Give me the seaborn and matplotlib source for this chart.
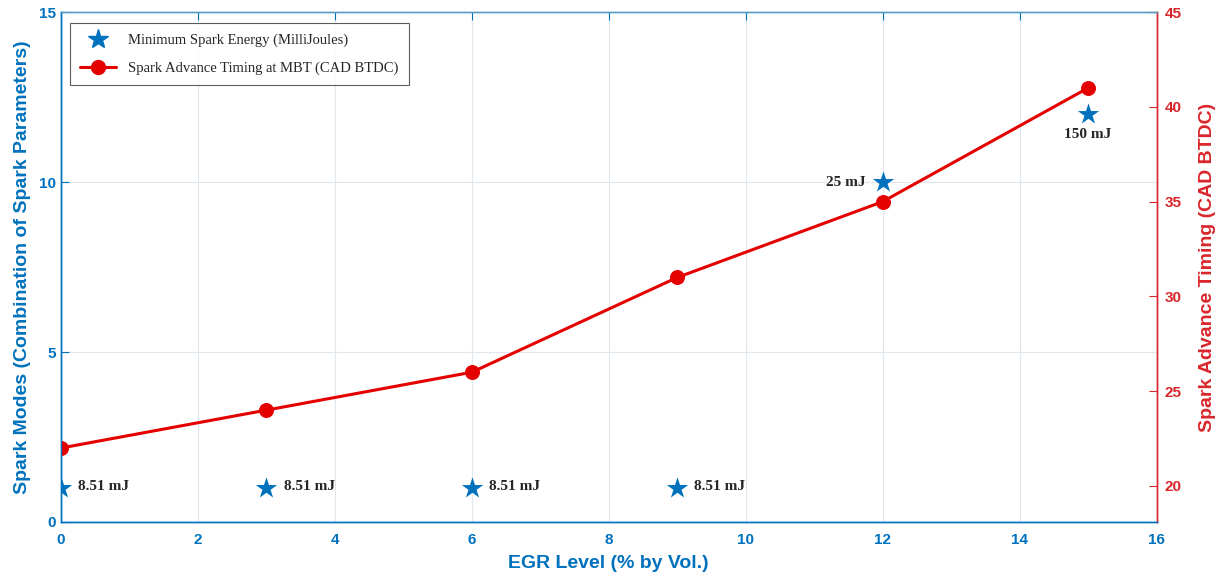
import matplotlib
matplotlib.use("Agg")
import matplotlib.pyplot as plt
import seaborn as sns
import pandas as pd

# EGR level (% by vol.)
egr = [0, 3, 6, 9, 12, 15]
# spark mode index (left axis) and energy labels
spark_mode = [1, 1, 1, 1, 10, 12]
energy_labels = ["8.51 mJ", "8.51 mJ", "8.51 mJ", "8.51 mJ", "25 mJ", "150 mJ"]
# spark advance at MBT (right axis)
spark_advance = [22, 24, 26, 31, 35, 41]

blue = "#0072BD"
red = "#E50000"
red_axis = "#D9262B"

sns.set_style("white")
plt.rcParams["font.family"] = ["Liberation Sans", "DejaVu Sans"]

df = pd.DataFrame({"egr": egr, "mode": spark_mode, "adv": spark_advance, "lbl": energy_labels})

fig = plt.figure(figsize=(12.2, 5.78), dpi=100)
ax = fig.add_axes([0.05, 0.097, 0.898, 0.882])
ax2 = ax.twinx()

# stars on left axis
sns.scatterplot(data=df, x="egr", y="mode", ax=ax, marker="*", s=260, color=blue,
                edgecolor=blue, linewidth=0, zorder=5, legend=False)

# red line on right axis
sns.lineplot(data=df, x="egr", y="adv", ax=ax2, color=red, linewidth=2.2,
             marker="o", markersize=10, markeredgecolor=red, legend=False)

ax.set_xlim(0, 16)
ax.set_ylim(0, 15)
ax.set_xticks(range(0, 17, 2))
ax.set_yticks([0, 5, 10, 15])
ax2.set_ylim(18.1, 45)
ax2.set_yticks([20, 25, 30, 35, 40, 45])

ax.grid(True, color="#dfe6ee", linewidth=0.8)
ax.set_axisbelow(True)

# annotations
serif = ["Liberation Serif", "DejaVu Serif"]
for x, y, t in zip(egr, spark_mode, energy_labels):
    if t == "25 mJ":
        ax.text(x - 0.25, y, t, ha="right", va="center", fontsize=11, fontweight="bold", family=serif)
    elif t == "150 mJ":
        ax.text(x, y - 0.6, t, ha="center", va="center", fontsize=11, fontweight="bold", family=serif)
    else:
        ax.text(x + 0.25, y + 0.05, t, ha="left", va="center", fontsize=11, fontweight="bold", family=serif)

# axis styling
for a in (ax, ax2):
    for s in a.spines.values():
        s.set_linewidth(1.0)
    a.spines["left"].set_color(blue)
    a.spines["bottom"].set_color(blue)
    a.spines["top"].set_color("#5b9bc4")
    a.spines["right"].set_color(red_axis)

ax.tick_params(axis="x", direction="in", length=6, colors=blue, top=True, labelsize=11, pad=8)
ax.tick_params(axis="y", direction="in", length=6, colors=blue, labelsize=11)
ax2.tick_params(axis="y", direction="in", length=6, colors=red_axis, labelsize=11, pad=6)
for lab in ax.get_xticklabels() + ax.get_yticklabels():
    lab.set_fontweight("bold")
for lab in ax2.get_yticklabels():
    lab.set_fontweight("bold")
    lab.set_color(red_axis)

ax.set_xlabel("EGR Level (% by Vol.)", fontsize=14, fontweight="bold", color=blue, labelpad=6)
ax.set_ylabel("Spark Modes (Combination of Spark Parameters)", fontsize=14, fontweight="bold",
              color=blue, labelpad=6)
ax2.set_ylabel("Spark Advance Timing (CAD BTDC)", fontsize=14, fontweight="bold", color=red_axis,
               labelpad=12)

# legend
h1 = plt.Line2D([], [], color=blue, marker="*", linestyle="none", markersize=15)
h2 = plt.Line2D([], [], color=red, marker="o", linewidth=2.2, markersize=10)
leg = ax2.legend([h1, h2], ["Minimum Spark Energy (MilliJoules)", "Spark Advance Timing at MBT (CAD BTDC)"],
                 loc="upper left", bbox_to_anchor=(0.004, 0.987), frameon=True, fancybox=False,
                 prop={"family": serif, "size": 10.5}, handlelength=2.5, borderpad=0.7,
                 labelspacing=1.0, handletextpad=0.8, borderaxespad=0.3)
leg.get_frame().set_edgecolor("#333333")
leg.get_frame().set_linewidth(0.8)

fig.savefig("out.png", dpi=100)
